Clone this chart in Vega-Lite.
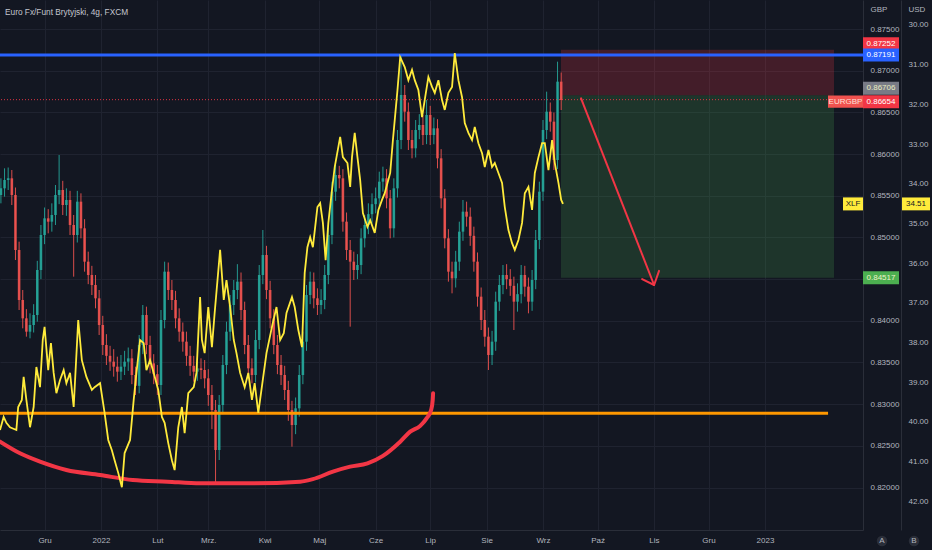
{
  "$schema": "https://vega.github.io/schema/vega-lite/v6.json",
  "width": 863,
  "height": 530,
  "autosize": {"type": "none"},
  "padding": {"left": 0, "top": 0, "right": 69, "bottom": 20},
  "background": "#131722",
  "title": {
    "text": "Euro Fx/Funt Brytyjski, 4g, FXCM",
    "anchor": "start",
    "frame": "group",
    "orient": "top",
    "offset": 0,
    "baseline": "middle",
    "dx": 5,
    "dy": 21,
    "fontSize": 8.3,
    "fontWeight": "normal",
    "color": "#c3c6ce"
  },
  "datasets": {
    "candles": [
      {"t":"2021-11-07T00:00","o":0.8551,"h":0.8571,"l":0.8541,"c":0.8559},
      {"t":"2021-11-09T00:00","o":0.8559,"h":0.8583,"l":0.8549,"c":0.8569},
      {"t":"2021-11-11T00:00","o":0.8569,"h":0.8584,"l":0.8557,"c":0.8571},
      {"t":"2021-11-13T00:00","o":0.8571,"h":0.8581,"l":0.8539,"c":0.8551},
      {"t":"2021-11-15T00:00","o":0.8551,"h":0.8560,"l":0.8473,"c":0.8485},
      {"t":"2021-11-17T00:00","o":0.8485,"h":0.8495,"l":0.8413,"c":0.8425},
      {"t":"2021-11-19T00:00","o":0.8425,"h":0.8437,"l":0.8391,"c":0.8403},
      {"t":"2021-11-21T00:00","o":0.8403,"h":0.8414,"l":0.8381,"c":0.8387},
      {"t":"2021-11-23T00:00","o":0.8387,"h":0.8409,"l":0.8379,"c":0.8395},
      {"t":"2021-11-25T00:00","o":0.8395,"h":0.8420,"l":0.8386,"c":0.8407},
      {"t":"2021-11-27T00:00","o":0.8407,"h":0.8472,"l":0.8399,"c":0.8461},
      {"t":"2021-11-29T00:00","o":0.8461,"h":0.8515,"l":0.8450,"c":0.8503},
      {"t":"2021-12-01T00:00","o":0.8503,"h":0.8536,"l":0.8492,"c":0.8523},
      {"t":"2021-12-03T00:00","o":0.8523,"h":0.8534,"l":0.8505,"c":0.8519},
      {"t":"2021-12-05T00:00","o":0.8519,"h":0.8541,"l":0.8507,"c":0.8527},
      {"t":"2021-12-07T00:00","o":0.8527,"h":0.8563,"l":0.8515,"c":0.8551},
      {"t":"2021-12-09T00:00","o":0.8551,"h":0.8599,"l":0.8540,"c":0.8557},
      {"t":"2021-12-11T00:00","o":0.8557,"h":0.8568,"l":0.8527,"c":0.8539},
      {"t":"2021-12-13T00:00","o":0.8539,"h":0.8559,"l":0.8526,"c":0.8545},
      {"t":"2021-12-15T00:00","o":0.8545,"h":0.8556,"l":0.8503,"c":0.8515},
      {"t":"2021-12-17T00:00","o":0.8515,"h":0.8527,"l":0.8453,"c":0.8503},
      {"t":"2021-12-19T00:00","o":0.8503,"h":0.8556,"l":0.8494,"c":0.8543},
      {"t":"2021-12-21T00:00","o":0.8543,"h":0.8553,"l":0.8499,"c":0.8511},
      {"t":"2021-12-23T00:00","o":0.8511,"h":0.8522,"l":0.8459,"c":0.8471},
      {"t":"2021-12-25T00:00","o":0.8471,"h":0.8483,"l":0.8444,"c":0.8455},
      {"t":"2021-12-27T00:00","o":0.8455,"h":0.8466,"l":0.8431,"c":0.8443},
      {"t":"2021-12-29T00:00","o":0.8443,"h":0.8455,"l":0.8415,"c":0.8427},
      {"t":"2021-12-31T00:00","o":0.8427,"h":0.8437,"l":0.8383,"c":0.8395},
      {"t":"2022-01-02T00:00","o":0.8395,"h":0.8406,"l":0.8359,"c":0.8371},
      {"t":"2022-01-04T00:00","o":0.8371,"h":0.8384,"l":0.8347,"c":0.8358},
      {"t":"2022-01-06T00:00","o":0.8358,"h":0.8370,"l":0.8340,"c":0.8351},
      {"t":"2022-01-08T00:00","o":0.8351,"h":0.8366,"l":0.8333,"c":0.8345},
      {"t":"2022-01-10T00:00","o":0.8345,"h":0.8357,"l":0.8327,"c":0.8339},
      {"t":"2022-01-12T00:00","o":0.8339,"h":0.8359,"l":0.8329,"c":0.8345},
      {"t":"2022-01-14T00:00","o":0.8345,"h":0.8364,"l":0.8335,"c":0.8351},
      {"t":"2022-01-16T00:00","o":0.8351,"h":0.8368,"l":0.8340,"c":0.8355},
      {"t":"2022-01-18T00:00","o":0.8355,"h":0.8366,"l":0.8324,"c":0.8335},
      {"t":"2022-01-20T00:00","o":0.8335,"h":0.8345,"l":0.8311,"c":0.8322},
      {"t":"2022-01-22T00:00","o":0.8322,"h":0.8383,"l":0.8313,"c":0.8371},
      {"t":"2022-01-24T00:00","o":0.8371,"h":0.8419,"l":0.8360,"c":0.8407},
      {"t":"2022-01-26T00:00","o":0.8407,"h":0.8417,"l":0.8360,"c":0.8371},
      {"t":"2022-01-28T00:00","o":0.8371,"h":0.8382,"l":0.8337,"c":0.8349},
      {"t":"2022-01-30T00:00","o":0.8349,"h":0.8360,"l":0.8324,"c":0.8336},
      {"t":"2022-02-01T00:00","o":0.8336,"h":0.8347,"l":0.8311,"c":0.8323},
      {"t":"2022-02-03T00:00","o":0.8323,"h":0.8413,"l":0.8311,"c":0.8401},
      {"t":"2022-02-05T00:00","o":0.8401,"h":0.8471,"l":0.8391,"c":0.8459},
      {"t":"2022-02-07T00:00","o":0.8459,"h":0.8470,"l":0.8425,"c":0.8437},
      {"t":"2022-02-09T00:00","o":0.8437,"h":0.8449,"l":0.8413,"c":0.8425},
      {"t":"2022-02-11T00:00","o":0.8425,"h":0.8436,"l":0.8391,"c":0.8403},
      {"t":"2022-02-13T00:00","o":0.8403,"h":0.8415,"l":0.8375,"c":0.8387},
      {"t":"2022-02-15T00:00","o":0.8387,"h":0.8398,"l":0.8363,"c":0.8375},
      {"t":"2022-02-17T00:00","o":0.8375,"h":0.8387,"l":0.8346,"c":0.8358},
      {"t":"2022-02-19T00:00","o":0.8358,"h":0.8370,"l":0.8334,"c":0.8346},
      {"t":"2022-02-21T00:00","o":0.8346,"h":0.8358,"l":0.8327,"c":0.8339},
      {"t":"2022-02-23T00:00","o":0.8339,"h":0.8356,"l":0.8328,"c":0.8343},
      {"t":"2022-02-25T00:00","o":0.8343,"h":0.8355,"l":0.8330,"c":0.8341},
      {"t":"2022-02-27T00:00","o":0.8341,"h":0.8353,"l":0.8319,"c":0.8331},
      {"t":"2022-03-01T00:00","o":0.8331,"h":0.8342,"l":0.8298,"c":0.8311},
      {"t":"2022-03-03T00:00","o":0.8311,"h":0.8323,"l":0.8270,"c":0.8293},
      {"t":"2022-03-05T00:00","o":0.8293,"h":0.8305,"l":0.8203,"c":0.8245},
      {"t":"2022-03-07T00:00","o":0.8245,"h":0.8311,"l":0.8233,"c":0.8299},
      {"t":"2022-03-09T00:00","o":0.8299,"h":0.8359,"l":0.8288,"c":0.8347},
      {"t":"2022-03-11T00:00","o":0.8347,"h":0.8399,"l":0.8336,"c":0.8387},
      {"t":"2022-03-13T00:00","o":0.8387,"h":0.8431,"l":0.8376,"c":0.8419},
      {"t":"2022-03-15T00:00","o":0.8419,"h":0.8449,"l":0.8407,"c":0.8437},
      {"t":"2022-03-17T00:00","o":0.8437,"h":0.8468,"l":0.8426,"c":0.8447},
      {"t":"2022-03-19T00:00","o":0.8447,"h":0.8458,"l":0.8401,"c":0.8413},
      {"t":"2022-03-21T00:00","o":0.8413,"h":0.8423,"l":0.8360,"c":0.8371},
      {"t":"2022-03-23T00:00","o":0.8371,"h":0.8383,"l":0.8331,"c":0.8343},
      {"t":"2022-03-25T00:00","o":0.8343,"h":0.8355,"l":0.8325,"c":0.8335},
      {"t":"2022-03-27T00:00","o":0.8335,"h":0.8389,"l":0.8326,"c":0.8377},
      {"t":"2022-03-29T00:00","o":0.8377,"h":0.8467,"l":0.8366,"c":0.8455},
      {"t":"2022-03-31T00:00","o":0.8455,"h":0.8509,"l":0.8444,"c":0.8479},
      {"t":"2022-04-02T00:00","o":0.8479,"h":0.8490,"l":0.8426,"c":0.8437},
      {"t":"2022-04-04T00:00","o":0.8437,"h":0.8448,"l":0.8391,"c":0.8403},
      {"t":"2022-04-06T00:00","o":0.8403,"h":0.8414,"l":0.8360,"c":0.8371},
      {"t":"2022-04-08T00:00","o":0.8371,"h":0.8383,"l":0.8336,"c":0.8347},
      {"t":"2022-04-10T00:00","o":0.8347,"h":0.8359,"l":0.8323,"c":0.8335},
      {"t":"2022-04-12T00:00","o":0.8335,"h":0.8346,"l":0.8305,"c":0.8317},
      {"t":"2022-04-14T00:00","o":0.8317,"h":0.8328,"l":0.8280,"c":0.8293},
      {"t":"2022-04-16T00:00","o":0.8293,"h":0.8304,"l":0.8249,"c":0.8275},
      {"t":"2022-04-18T00:00","o":0.8275,"h":0.8308,"l":0.8264,"c":0.8295},
      {"t":"2022-04-20T00:00","o":0.8295,"h":0.8347,"l":0.8285,"c":0.8335},
      {"t":"2022-04-22T00:00","o":0.8335,"h":0.8387,"l":0.8324,"c":0.8375},
      {"t":"2022-04-24T00:00","o":0.8375,"h":0.8443,"l":0.8364,"c":0.8431},
      {"t":"2022-04-26T00:00","o":0.8431,"h":0.8459,"l":0.8420,"c":0.8447},
      {"t":"2022-04-28T00:00","o":0.8447,"h":0.8458,"l":0.8415,"c":0.8427},
      {"t":"2022-04-30T00:00","o":0.8427,"h":0.8439,"l":0.8407,"c":0.8419},
      {"t":"2022-05-02T00:00","o":0.8419,"h":0.8438,"l":0.8408,"c":0.8425},
      {"t":"2022-05-04T00:00","o":0.8425,"h":0.8467,"l":0.8414,"c":0.8455},
      {"t":"2022-05-06T00:00","o":0.8455,"h":0.8515,"l":0.8444,"c":0.8503},
      {"t":"2022-05-08T00:00","o":0.8503,"h":0.8567,"l":0.8492,"c":0.8555},
      {"t":"2022-05-10T00:00","o":0.8555,"h":0.8587,"l":0.8544,"c":0.8575},
      {"t":"2022-05-12T00:00","o":0.8575,"h":0.8586,"l":0.8559,"c":0.8571},
      {"t":"2022-05-14T00:00","o":0.8571,"h":0.8582,"l":0.8507,"c":0.8519},
      {"t":"2022-05-16T00:00","o":0.8519,"h":0.8530,"l":0.8473,"c":0.8485},
      {"t":"2022-05-18T00:00","o":0.8485,"h":0.8497,"l":0.8393,"c":0.8471},
      {"t":"2022-05-20T00:00","o":0.8471,"h":0.8483,"l":0.8449,"c":0.8461},
      {"t":"2022-05-22T00:00","o":0.8461,"h":0.8480,"l":0.8450,"c":0.8467},
      {"t":"2022-05-24T00:00","o":0.8467,"h":0.8511,"l":0.8456,"c":0.8499},
      {"t":"2022-05-26T00:00","o":0.8499,"h":0.8527,"l":0.8488,"c":0.8515},
      {"t":"2022-05-28T00:00","o":0.8515,"h":0.8541,"l":0.8504,"c":0.8528},
      {"t":"2022-05-30T00:00","o":0.8528,"h":0.8553,"l":0.8517,"c":0.8540},
      {"t":"2022-06-01T00:00","o":0.8540,"h":0.8560,"l":0.8529,"c":0.8547},
      {"t":"2022-06-03T00:00","o":0.8547,"h":0.8579,"l":0.8536,"c":0.8567},
      {"t":"2022-06-05T00:00","o":0.8567,"h":0.8585,"l":0.8555,"c":0.8571},
      {"t":"2022-06-07T00:00","o":0.8571,"h":0.8582,"l":0.8535,"c":0.8547},
      {"t":"2022-06-09T00:00","o":0.8547,"h":0.8557,"l":0.8499,"c":0.8511},
      {"t":"2022-06-11T00:00","o":0.8511,"h":0.8571,"l":0.8500,"c":0.8559},
      {"t":"2022-06-13T00:00","o":0.8559,"h":0.8629,"l":0.8548,"c":0.8617},
      {"t":"2022-06-15T00:00","o":0.8617,"h":0.8718,"l":0.8606,"c":0.8671},
      {"t":"2022-06-17T00:00","o":0.8671,"h":0.8683,"l":0.8639,"c":0.8651},
      {"t":"2022-06-19T00:00","o":0.8651,"h":0.8662,"l":0.8605,"c":0.8617},
      {"t":"2022-06-21T00:00","o":0.8617,"h":0.8629,"l":0.8595,"c":0.8607},
      {"t":"2022-06-23T00:00","o":0.8607,"h":0.8641,"l":0.8596,"c":0.8629},
      {"t":"2022-06-25T00:00","o":0.8629,"h":0.8648,"l":0.8618,"c":0.8635},
      {"t":"2022-06-27T00:00","o":0.8635,"h":0.8647,"l":0.8611,"c":0.8623},
      {"t":"2022-06-29T00:00","o":0.8623,"h":0.8665,"l":0.8612,"c":0.8647},
      {"t":"2022-07-01T00:00","o":0.8647,"h":0.8658,"l":0.8611,"c":0.8623},
      {"t":"2022-07-03T00:00","o":0.8623,"h":0.8644,"l":0.8612,"c":0.8631},
      {"t":"2022-07-05T00:00","o":0.8631,"h":0.8642,"l":0.8583,"c":0.8595},
      {"t":"2022-07-07T00:00","o":0.8595,"h":0.8606,"l":0.8535,"c":0.8547},
      {"t":"2022-07-09T00:00","o":0.8547,"h":0.8558,"l":0.8487,"c":0.8499},
      {"t":"2022-07-11T00:00","o":0.8499,"h":0.8510,"l":0.8447,"c":0.8459},
      {"t":"2022-07-13T00:00","o":0.8459,"h":0.8471,"l":0.8433,"c":0.8451},
      {"t":"2022-07-15T00:00","o":0.8451,"h":0.8484,"l":0.8440,"c":0.8471},
      {"t":"2022-07-17T00:00","o":0.8471,"h":0.8519,"l":0.8460,"c":0.8507},
      {"t":"2022-07-19T00:00","o":0.8507,"h":0.8545,"l":0.8496,"c":0.8531},
      {"t":"2022-07-21T00:00","o":0.8531,"h":0.8543,"l":0.8513,"c":0.8525},
      {"t":"2022-07-23T00:00","o":0.8525,"h":0.8536,"l":0.8490,"c":0.8502},
      {"t":"2022-07-25T00:00","o":0.8502,"h":0.8513,"l":0.8459,"c":0.8471},
      {"t":"2022-07-27T00:00","o":0.8471,"h":0.8482,"l":0.8417,"c":0.8429},
      {"t":"2022-07-29T00:00","o":0.8429,"h":0.8440,"l":0.8389,"c":0.8401},
      {"t":"2022-07-31T00:00","o":0.8401,"h":0.8413,"l":0.8369,"c":0.8381},
      {"t":"2022-08-02T00:00","o":0.8381,"h":0.8392,"l":0.8341,"c":0.8359},
      {"t":"2022-08-04T00:00","o":0.8359,"h":0.8388,"l":0.8347,"c":0.8375},
      {"t":"2022-08-06T00:00","o":0.8375,"h":0.8435,"l":0.8364,"c":0.8423},
      {"t":"2022-08-08T00:00","o":0.8423,"h":0.8455,"l":0.8412,"c":0.8443},
      {"t":"2022-08-10T00:00","o":0.8443,"h":0.8467,"l":0.8432,"c":0.8455},
      {"t":"2022-08-12T00:00","o":0.8455,"h":0.8468,"l":0.8438,"c":0.8450},
      {"t":"2022-08-14T00:00","o":0.8450,"h":0.8462,"l":0.8430,"c":0.8442},
      {"t":"2022-08-16T00:00","o":0.8442,"h":0.8453,"l":0.8389,"c":0.8423},
      {"t":"2022-08-18T00:00","o":0.8423,"h":0.8445,"l":0.8411,"c":0.8432},
      {"t":"2022-08-20T00:00","o":0.8432,"h":0.8467,"l":0.8421,"c":0.8455},
      {"t":"2022-08-22T00:00","o":0.8455,"h":0.8466,"l":0.8429,"c":0.8441},
      {"t":"2022-08-24T00:00","o":0.8441,"h":0.8452,"l":0.8409,"c":0.8423},
      {"t":"2022-08-26T00:00","o":0.8423,"h":0.8461,"l":0.8412,"c":0.8449},
      {"t":"2022-08-28T00:00","o":0.8449,"h":0.8509,"l":0.8438,"c":0.8497},
      {"t":"2022-08-30T00:00","o":0.8497,"h":0.8567,"l":0.8486,"c":0.8555},
      {"t":"2022-09-01T00:00","o":0.8555,"h":0.8641,"l":0.8544,"c":0.8629},
      {"t":"2022-09-03T00:00","o":0.8629,"h":0.8675,"l":0.8618,"c":0.8651},
      {"t":"2022-09-05T00:00","o":0.8651,"h":0.8662,"l":0.8627,"c":0.8639},
      {"t":"2022-09-07T00:00","o":0.8639,"h":0.8650,"l":0.8581,"c":0.8593},
      {"t":"2022-09-09T00:00","o":0.8593,"h":0.8711,"l":0.8582,"c":0.8687},
      {"t":"2022-09-11T00:00","o":0.8687,"h":0.8698,"l":0.8653,"c":0.8665}
    ],
    "xlf": [
      {"t":"2021-11-06T12:00","v":40.21},{"t":"2021-11-08T12:00","v":39.88},{"t":"2021-11-10T00:00","v":40.03},
      {"t":"2021-11-12T00:00","v":40.14},{"t":"2021-11-15T12:00","v":40.21},{"t":"2021-11-16T12:00","v":39.63},
      {"t":"2021-11-18T12:00","v":39.45},{"t":"2021-11-19T12:00","v":38.87},{"t":"2021-11-21T00:00","v":39.45},
      {"t":"2021-11-23T00:00","v":40.14},{"t":"2021-11-25T00:00","v":39.63},{"t":"2021-11-26T12:00","v":38.62},
      {"t":"2021-11-28T12:00","v":39.13},{"t":"2021-11-30T00:00","v":37.94},{"t":"2021-12-01T00:00","v":37.61},
      {"t":"2021-12-03T00:00","v":38.70},{"t":"2021-12-04T12:00","v":38.02},{"t":"2021-12-06T00:00","v":38.77},
      {"t":"2021-12-07T12:00","v":39.28},{"t":"2021-12-09T12:00","v":38.95},{"t":"2021-12-11T12:00","v":38.70},
      {"t":"2021-12-13T00:00","v":39.03},{"t":"2021-12-15T00:00","v":38.77},{"t":"2021-12-17T00:00","v":39.63},
      {"t":"2021-12-19T12:00","v":37.44},{"t":"2021-12-21T12:00","v":38.45},{"t":"2021-12-24T00:00","v":38.87},
      {"t":"2021-12-27T00:00","v":39.20},{"t":"2021-12-28T12:00","v":39.13},{"t":"2021-12-31T12:00","v":39.03},
      {"t":"2022-01-03T00:00","v":39.78},{"t":"2022-01-05T00:00","v":40.46},{"t":"2022-01-07T00:00","v":40.72},
      {"t":"2022-01-08T12:00","v":40.97},{"t":"2022-01-10T12:00","v":41.29},{"t":"2022-01-12T12:00","v":41.65},
      {"t":"2022-01-14T00:00","v":40.79},{"t":"2022-01-17T00:00","v":40.46},{"t":"2022-01-19T00:00","v":39.45},
      {"t":"2022-01-20T12:00","v":38.77},{"t":"2022-01-22T12:00","v":37.94},{"t":"2022-01-24T12:00","v":38.02},
      {"t":"2022-01-26T00:00","v":38.70},{"t":"2022-01-28T00:00","v":38.45},{"t":"2022-01-30T00:00","v":38.77},
      {"t":"2022-02-01T12:00","v":39.20},{"t":"2022-02-03T12:00","v":39.88},{"t":"2022-02-05T00:00","v":40.03},
      {"t":"2022-02-07T00:00","v":40.54},{"t":"2022-02-09T00:00","v":40.97},{"t":"2022-02-10T12:00","v":41.22},
      {"t":"2022-02-12T12:00","v":40.14},{"t":"2022-02-14T12:00","v":39.63},{"t":"2022-02-16T00:00","v":40.29},
      {"t":"2022-02-18T00:00","v":39.28},{"t":"2022-02-21T00:00","v":39.13},{"t":"2022-02-22T12:00","v":38.77},
      {"t":"2022-02-24T12:00","v":36.86},{"t":"2022-02-25T12:00","v":37.94},{"t":"2022-02-27T00:00","v":38.27},
      {"t":"2022-03-01T00:00","v":37.11},{"t":"2022-03-03T00:00","v":38.12},{"t":"2022-03-04T12:00","v":37.26},
      {"t":"2022-03-07T12:00","v":35.67},{"t":"2022-03-09T12:00","v":36.93},{"t":"2022-03-11T00:00","v":36.43},
      {"t":"2022-03-13T00:00","v":37.11},{"t":"2022-03-15T00:00","v":37.94},{"t":"2022-03-16T12:00","v":38.27},
      {"t":"2022-03-18T12:00","v":38.77},{"t":"2022-03-21T00:00","v":39.13},{"t":"2022-03-23T00:00","v":38.77},
      {"t":"2022-03-25T00:00","v":39.45},{"t":"2022-03-26T12:00","v":39.03},{"t":"2022-03-28T12:00","v":39.78},
      {"t":"2022-03-31T12:00","v":38.77},{"t":"2022-04-02T00:00","v":38.27},{"t":"2022-04-05T00:00","v":37.61},
      {"t":"2022-04-07T12:00","v":37.11},{"t":"2022-04-09T12:00","v":37.94},{"t":"2022-04-11T12:00","v":37.77},
      {"t":"2022-04-13T00:00","v":37.26},{"t":"2022-04-16T00:00","v":36.86},{"t":"2022-04-17T12:00","v":37.11},
      {"t":"2022-04-19T12:00","v":37.69},{"t":"2022-04-21T12:00","v":38.12},{"t":"2022-04-23T00:00","v":36.25},
      {"t":"2022-04-24T12:00","v":35.60},{"t":"2022-04-26T00:00","v":35.35},{"t":"2022-04-27T12:00","v":35.60},
      {"t":"2022-04-30T00:00","v":34.59},{"t":"2022-05-01T12:00","v":34.49},{"t":"2022-05-03T00:00","v":34.99},
      {"t":"2022-05-04T12:00","v":35.93},{"t":"2022-05-06T00:00","v":34.99},{"t":"2022-05-08T00:00","v":34.16},
      {"t":"2022-05-09T12:00","v":33.58},{"t":"2022-05-12T12:00","v":32.82},{"t":"2022-05-14T00:00","v":33.33},
      {"t":"2022-05-16T12:00","v":33.48},{"t":"2022-05-18T00:00","v":34.08},{"t":"2022-05-19T00:00","v":33.33},
      {"t":"2022-05-20T12:00","v":32.72},{"t":"2022-05-22T00:00","v":33.33},{"t":"2022-05-23T12:00","v":33.91},
      {"t":"2022-05-25T00:00","v":34.74},{"t":"2022-05-27T12:00","v":35.09},{"t":"2022-05-29T00:00","v":34.92},
      {"t":"2022-05-31T12:00","v":35.24},{"t":"2022-06-02T12:00","v":34.66},{"t":"2022-06-04T12:00","v":34.41},
      {"t":"2022-06-06T00:00","v":34.24},{"t":"2022-06-09T00:00","v":33.73},{"t":"2022-06-10T12:00","v":32.90},
      {"t":"2022-06-13T00:00","v":31.64},{"t":"2022-06-14T12:00","v":30.81},{"t":"2022-06-17T00:00","v":31.06},
      {"t":"2022-06-19T00:00","v":31.39},{"t":"2022-06-21T00:00","v":31.13},{"t":"2022-06-22T12:00","v":31.39},
      {"t":"2022-06-24T12:00","v":31.64},{"t":"2022-06-26T12:00","v":32.32},{"t":"2022-06-28T00:00","v":31.89},
      {"t":"2022-06-30T00:00","v":31.31},{"t":"2022-07-02T00:00","v":31.56},{"t":"2022-07-03T12:00","v":31.71},
      {"t":"2022-07-05T12:00","v":31.39},{"t":"2022-07-07T12:00","v":31.89},{"t":"2022-07-09T00:00","v":32.14},
      {"t":"2022-07-11T00:00","v":31.71},{"t":"2022-07-13T00:00","v":31.56},{"t":"2022-07-14T12:00","v":30.71},
      {"t":"2022-07-16T12:00","v":31.39},{"t":"2022-07-18T12:00","v":31.82},{"t":"2022-07-20T00:00","v":32.47},
      {"t":"2022-07-22T00:00","v":32.72},{"t":"2022-07-24T00:00","v":32.90},{"t":"2022-07-25T12:00","v":32.57},
      {"t":"2022-07-27T12:00","v":32.98},{"t":"2022-07-29T12:00","v":33.23},{"t":"2022-07-31T00:00","v":33.58},
      {"t":"2022-08-02T00:00","v":33.15},{"t":"2022-08-04T00:00","v":33.58},{"t":"2022-08-05T12:00","v":33.48},
      {"t":"2022-08-07T12:00","v":33.73},{"t":"2022-08-09T12:00","v":33.98},{"t":"2022-08-11T00:00","v":34.59},
      {"t":"2022-08-13T00:00","v":35.17},{"t":"2022-08-15T00:00","v":35.50},{"t":"2022-08-16T12:00","v":35.67},
      {"t":"2022-08-18T12:00","v":35.42},{"t":"2022-08-20T12:00","v":34.99},{"t":"2022-08-22T00:00","v":34.24},
      {"t":"2022-08-24T00:00","v":34.08},{"t":"2022-08-26T00:00","v":34.66},{"t":"2022-08-27T12:00","v":33.73},
      {"t":"2022-08-29T12:00","v":33.33},{"t":"2022-08-31T12:00","v":32.98},{"t":"2022-09-02T00:00","v":32.98},
      {"t":"2022-09-04T00:00","v":33.66},{"t":"2022-09-06T00:00","v":32.90},{"t":"2022-09-07T12:00","v":33.48},
      {"t":"2022-09-09T12:00","v":33.98},{"t":"2022-09-11T00:00","v":34.41},{"t":"2022-09-12T00:00","v":34.51}
    ],
    "curve": [
      {"t":"2021-11-06T12:00","p":0.8255},
      {"t":"2021-11-17T12:00","p":0.8241},
      {"t":"2021-11-28T12:00","p":0.8231},
      {"t":"2021-12-13T00:00","p":0.8221},
      {"t":"2021-12-31T12:00","p":0.8215},
      {"t":"2022-01-18T12:00","p":0.8209},
      {"t":"2022-02-06T12:00","p":0.8207},
      {"t":"2022-02-24T12:00","p":0.8205},
      {"t":"2022-03-25T00:00","p":0.8205},
      {"t":"2022-04-20T12:00","p":0.8207},
      {"t":"2022-04-27T12:00","p":0.8210},
      {"t":"2022-05-08T12:00","p":0.8219},
      {"t":"2022-05-18T00:00","p":0.8225},
      {"t":"2022-05-27T12:00","p":0.8229},
      {"t":"2022-06-05T00:00","p":0.8238},
      {"t":"2022-06-14T12:00","p":0.8255},
      {"t":"2022-06-20T00:00","p":0.8267},
      {"t":"2022-06-25T12:00","p":0.8274},
      {"t":"2022-06-29T00:00","p":0.8283},
      {"t":"2022-07-01T12:00","p":0.8293},
      {"t":"2022-07-02T09:00","p":0.8305},
      {"t":"2022-07-02T14:00","p":0.8313}
    ],
    "arrow": [
      {"t1":"2022-09-21T22:00","p1":0.8667,"t2":"2022-11-01T02:00","p2":0.8443},
      {"t1":"2022-11-01T02:00","p1":0.8443,"t2":"2022-10-25T12:00","p2":0.8450},
      {"t1":"2022-11-01T02:00","p1":0.8443,"t2":"2022-11-03T19:00","p2":0.8460}
    ]
  },
  "resolve": {"scale": {"y": "independent"}},
  "layer": [
    {
      "layer": [
        {
          "data": {"values": [{"t1": "2022-09-10T21:00", "t2": "2023-02-08T00:00", "p1": 0.87252, "p2": 0.86706}]},
          "mark": {"type": "rect", "color": "#f23645", "opacity": 0.22, "clip": true},
          "encoding": {
            "x": {"field": "t1", "type": "temporal", "scale": {"domain": [{"year": 2021, "month": 11, "date": 6, "hours": 12}, {"year": 2023, "month": 2, "date": 23, "hours": 22}], "padding": 0, "nice": false}},
            "x2": {"field": "t2"},
            "y": {"field": "p1", "type": "quantitative", "scale": {"domain": [0.8149, 0.8785], "nice": false, "zero": false}},
            "y2": {"field": "p2"}
          }
        },
        {
          "data": {"values": [{"t1": "2022-09-10T21:00", "t2": "2023-02-08T00:00", "p1": 0.86706, "p2": 0.84517}]},
          "mark": {"type": "rect", "color": "#4caf50", "opacity": 0.2, "clip": true},
          "encoding": {
            "x": {"field": "t1", "type": "temporal", "scale": {"domain": [{"year": 2021, "month": 11, "date": 6, "hours": 12}, {"year": 2023, "month": 2, "date": 23, "hours": 22}], "padding": 0, "nice": false}},
            "x2": {"field": "t2"},
            "y": {"field": "p1", "type": "quantitative", "scale": {"domain": [0.8149, 0.8785], "nice": false, "zero": false}},
            "y2": {"field": "p2"}
          }
        },
        {
          "data": {"name": "candles"},
          "mark": {"type": "rule", "strokeWidth": 1, "opacity": 0.9, "clip": true},
          "encoding": {
            "x": {
              "field": "t", "type": "temporal",
              "scale": {"domain": [{"year": 2021, "month": 11, "date": 6, "hours": 12}, {"year": 2023, "month": 2, "date": 23, "hours": 22}], "padding": 0, "nice": false},
              "axis": {
                "title": null,
                "grid": true,
                "values": [
                  {"year": 2021, "month": 12, "date": 1}, {"year": 2022, "month": 1, "date": 1},
                  {"year": 2022, "month": 2, "date": 1}, {"year": 2022, "month": 3, "date": 1},
                  {"year": 2022, "month": 4, "date": 1}, {"year": 2022, "month": 5, "date": 1},
                  {"year": 2022, "month": 6, "date": 1}, {"year": 2022, "month": 7, "date": 1},
                  {"year": 2022, "month": 8, "date": 1}, {"year": 2022, "month": 9, "date": 1},
                  {"year": 2022, "month": 10, "date": 1}, {"year": 2022, "month": 11, "date": 1},
                  {"year": 2022, "month": 12, "date": 1}, {"year": 2023, "month": 1, "date": 1}
                ],
                "labelExpr": "month(datum.value) == 0 ? timeFormat(datum.value, '%Y') : ['Sty','Lut','Mrz.','Kwi','Maj','Cze','Lip','Sie','Wrz','Paź','Lis','Gru'][month(datum.value)]",
                "labelPadding": 6
              }
            },
            "y": {
              "field": "l", "type": "quantitative",
              "scale": {"domain": [0.8149, 0.8785], "nice": false, "zero": false},
              "axis": {
                "orient": "right",
                "title": "GBP",
                "titleAngle": 0,
                "titleX": 7,
                "titleY": 9,
                "titleAlign": "left",
                "titleBaseline": "middle",
                "grid": true,
                "values": [0.82, 0.825, 0.83, 0.835, 0.84, 0.845, 0.85, 0.855, 0.86, 0.865, 0.87, 0.875],
                "labelExpr": "abs(datum.value - 0.845) < 0.0001 ? '' : format(datum.value, '.5f')",
                "labelPadding": 7
              }
            },
            "y2": {"field": "h"},
            "color": {"condition": {"test": "datum.c >= datum.o", "value": "#26a69a"}, "value": "#ef5350"}
          }
        },
        {
          "data": {"name": "candles"},
          "mark": {"type": "bar", "width": 2.6, "opacity": 0.9, "clip": true},
          "encoding": {
            "x": {"field": "t", "type": "temporal", "scale": {"domain": [{"year": 2021, "month": 11, "date": 6, "hours": 12}, {"year": 2023, "month": 2, "date": 23, "hours": 22}], "padding": 0, "nice": false}},
            "y": {"field": "o", "type": "quantitative", "scale": {"domain": [0.8149, 0.8785], "nice": false, "zero": false}},
            "y2": {"field": "c"},
            "color": {"condition": {"test": "datum.c >= datum.o", "value": "#26a69a"}, "value": "#ef5350"}
          }
        },
        {
          "data": {"values": [{"p": 0.86654}]},
          "mark": {"type": "rule", "color": "#f23645", "strokeWidth": 1, "strokeDash": [1, 2], "opacity": 0.9},
          "encoding": {
            "y": {"field": "p", "type": "quantitative", "scale": {"domain": [0.8149, 0.8785], "nice": false, "zero": false}}
          }
        },
        {
          "data": {"values": [{"t1": "2021-11-06T12:00", "t2": "2023-02-04T17:00", "p": 0.8289}]},
          "mark": {"type": "rule", "color": "#ff9800", "strokeWidth": 3, "clip": true},
          "encoding": {
            "x": {"field": "t1", "type": "temporal", "scale": {"domain": [{"year": 2021, "month": 11, "date": 6, "hours": 12}, {"year": 2023, "month": 2, "date": 23, "hours": 22}], "padding": 0, "nice": false}},
            "x2": {"field": "t2"},
            "y": {"field": "p", "type": "quantitative", "scale": {"domain": [0.8149, 0.8785], "nice": false, "zero": false}}
          }
        },
        {
          "data": {"values": [{"p": 0.87191}]},
          "mark": {"type": "rule", "color": "#2962ff", "strokeWidth": 3},
          "encoding": {
            "y": {"field": "p", "type": "quantitative", "scale": {"domain": [0.8149, 0.8785], "nice": false, "zero": false}}
          }
        },
        {
          "data": {"name": "curve"},
          "mark": {"type": "line", "color": "#f23645", "strokeWidth": 4, "strokeCap": "round", "interpolate": "monotone", "clip": true},
          "encoding": {
            "x": {"field": "t", "type": "temporal", "scale": {"domain": [{"year": 2021, "month": 11, "date": 6, "hours": 12}, {"year": 2023, "month": 2, "date": 23, "hours": 22}], "padding": 0, "nice": false}},
            "y": {"field": "p", "type": "quantitative", "scale": {"domain": [0.8149, 0.8785], "nice": false, "zero": false}}
          }
        },
        {
          "data": {"name": "arrow"},
          "mark": {"type": "rule", "color": "#f23645", "strokeWidth": 2, "strokeCap": "round"},
          "encoding": {
            "x": {"field": "t1", "type": "temporal", "scale": {"domain": [{"year": 2021, "month": 11, "date": 6, "hours": 12}, {"year": 2023, "month": 2, "date": 23, "hours": 22}], "padding": 0, "nice": false}},
            "x2": {"field": "t2"},
            "y": {"field": "p1", "type": "quantitative", "scale": {"domain": [0.8149, 0.8785], "nice": false, "zero": false}},
            "y2": {"field": "p2"}
          }
        },
        {
          "data": {"values": [{"p": 0.87252, "label": "0.87252"}]},
          "encoding": {
            "x": {"value": "width"},
            "y": {"field": "p", "type": "quantitative", "scale": {"domain": [0.8149, 0.8785], "nice": false, "zero": false}}
          },
          "layer": [
            {"mark": {"type": "point", "shape": "M-1,-0.36L1,-0.36L1,0.36L-1,0.36Z", "size": 1296, "filled": true, "opacity": 1, "strokeWidth": 0, "color": "#f23645", "xOffset": 18, "yOffset": -6, "clip": false}},
            {"mark": {"type": "text", "color": "#ffffff", "fontSize": 8, "xOffset": 18, "yOffset": -6, "clip": false}, "encoding": {"text": {"field": "label"}}}
          ]
        },
        {
          "data": {"values": [{"p": 0.87191, "label": "0.87191"}]},
          "encoding": {
            "x": {"value": "width"},
            "y": {"field": "p", "type": "quantitative", "scale": {"domain": [0.8149, 0.8785], "nice": false, "zero": false}}
          },
          "layer": [
            {"mark": {"type": "point", "shape": "M-1,-0.36L1,-0.36L1,0.36L-1,0.36Z", "size": 1296, "filled": true, "opacity": 1, "strokeWidth": 0, "color": "#2962ff", "xOffset": 18, "clip": false}},
            {"mark": {"type": "text", "color": "#ffffff", "fontSize": 8, "xOffset": 18, "clip": false}, "encoding": {"text": {"field": "label"}}}
          ]
        },
        {
          "data": {"values": [{"p": 0.86706, "label": "0.86706"}]},
          "encoding": {
            "x": {"value": "width"},
            "y": {"field": "p", "type": "quantitative", "scale": {"domain": [0.8149, 0.8785], "nice": false, "zero": false}}
          },
          "layer": [
            {"mark": {"type": "point", "shape": "M-1,-0.36L1,-0.36L1,0.36L-1,0.36Z", "size": 1296, "filled": true, "opacity": 1, "strokeWidth": 0, "color": "#787b86", "xOffset": 18, "yOffset": -7, "clip": false}},
            {"mark": {"type": "text", "color": "#e8ecc0", "fontSize": 8, "xOffset": 18, "yOffset": -7, "clip": false}, "encoding": {"text": {"field": "label"}}}
          ]
        },
        {
          "data": {"values": [{"p": 0.86654, "label": "0.86654", "name": "EURGBP"}]},
          "encoding": {
            "x": {"value": "width"},
            "y": {"field": "p", "type": "quantitative", "scale": {"domain": [0.8149, 0.8785], "nice": false, "zero": false}}
          },
          "layer": [
            {"mark": {"type": "point", "shape": "M-1,-0.36L1,-0.36L1,0.36L-1,0.36Z", "size": 1296, "filled": true, "opacity": 1, "strokeWidth": 0, "color": "#f23645", "xOffset": 18, "yOffset": 2, "clip": false}},
            {"mark": {"type": "text", "color": "#ffffff", "fontSize": 8, "xOffset": 18, "yOffset": 2, "clip": false}, "encoding": {"text": {"field": "label"}}},
            {"mark": {"type": "point", "shape": "M-1,-0.35L1,-0.35L1,0.35L-1,0.35Z", "size": 1225, "filled": true, "opacity": 1, "strokeWidth": 0, "color": "#f0524f", "xOffset": -17.5, "yOffset": 2, "clip": false}},
            {"mark": {"type": "text", "color": "#ffe0d8", "fontSize": 8, "xOffset": -17.5, "yOffset": 2, "clip": false}, "encoding": {"text": {"field": "name"}}}
          ]
        },
        {
          "data": {"values": [{"p": 0.84517, "label": "0.84517"}]},
          "encoding": {
            "x": {"value": "width"},
            "y": {"field": "p", "type": "quantitative", "scale": {"domain": [0.8149, 0.8785], "nice": false, "zero": false}}
          },
          "layer": [
            {"mark": {"type": "point", "shape": "M-1,-0.36L1,-0.36L1,0.36L-1,0.36Z", "size": 1296, "filled": true, "opacity": 1, "strokeWidth": 0, "color": "#4caf50", "xOffset": 18, "clip": false}},
            {"mark": {"type": "text", "color": "#eef3c8", "fontSize": 8, "xOffset": 18, "clip": false}, "encoding": {"text": {"field": "label"}}}
          ]
        },
        {
          "data": {"values": [{"label": "A"}]},
          "encoding": {"x": {"value": "width"}, "y": {"value": "height"}},
          "layer": [
            {"mark": {"type": "point", "shape": "circle", "size": 110, "filled": true, "opacity": 1, "color": "#2a2e39", "xOffset": 19, "yOffset": 11, "clip": false}},
            {"mark": {"type": "text", "color": "#b2b5be", "fontSize": 8, "xOffset": 19, "yOffset": 11, "clip": false}, "encoding": {"text": {"field": "label"}}}
          ]
        }
      ]
    },
    {
      "layer": [
        {
          "data": {"name": "xlf"},
          "mark": {"type": "line", "color": "#ffeb3b", "strokeWidth": 1.8, "clip": true},
          "encoding": {
            "x": {"field": "t", "type": "temporal", "scale": {"domain": [{"year": 2021, "month": 11, "date": 6, "hours": 12}, {"year": 2023, "month": 2, "date": 23, "hours": 22}], "padding": 0, "nice": false}},
            "y": {
              "field": "v", "type": "quantitative",
              "scale": {"domain": [29.37, 42.73], "reverse": true, "nice": false, "zero": false},
              "axis": {
                "orient": "right",
                "offset": 38,
                "title": "USD",
                "titleAngle": 0,
                "titleX": 7,
                "titleY": 9,
                "titleAlign": "left",
                "titleBaseline": "middle",
                "grid": false,
                "values": [30, 31, 32, 33, 34, 35, 36, 37, 38, 39, 40, 41, 42],
                "format": ".2f",
                "labelPadding": 7
              }
            }
          }
        },
        {
          "data": {"values": [{"v": 34.51, "label": "34.51", "name": "XLF"}]},
          "encoding": {
            "x": {"value": "width"},
            "y": {"field": "v", "type": "quantitative", "scale": {"domain": [29.37, 42.73], "reverse": true, "nice": false, "zero": false}}
          },
          "layer": [
            {"mark": {"type": "point", "shape": "M-1,-0.65L1,-0.65L1,0.65L-1,0.65Z", "size": 400, "filled": true, "opacity": 1, "strokeWidth": 0, "color": "#ffeb3b", "xOffset": -10, "clip": false}},
            {"mark": {"type": "text", "color": "#131722", "fontSize": 8, "xOffset": -10, "clip": false}, "encoding": {"text": {"field": "name"}}},
            {"mark": {"type": "point", "shape": "M-1,-0.46L1,-0.46L1,0.46L-1,0.46Z", "size": 784, "filled": true, "opacity": 1, "strokeWidth": 0, "color": "#ffeb3b", "xOffset": 53, "clip": false}},
            {"mark": {"type": "text", "color": "#131722", "fontSize": 8, "xOffset": 53, "clip": false}, "encoding": {"text": {"field": "label"}}}
          ]
        },
        {
          "data": {"values": [{"label": "B"}]},
          "encoding": {"x": {"value": "width"}, "y": {"value": "height"}},
          "layer": [
            {"mark": {"type": "point", "shape": "circle", "size": 110, "filled": true, "opacity": 1, "color": "#2a2e39", "xOffset": 51, "yOffset": 11, "clip": false}},
            {"mark": {"type": "text", "color": "#b2b5be", "fontSize": 8, "xOffset": 51, "yOffset": 11, "clip": false}, "encoding": {"text": {"field": "label"}}}
          ]
        }
      ]
    }
  ],
  "config": {
    "view": {"stroke": null},
    "font": "Liberation Sans",
    "axis": {
      "labelColor": "#b2b5be",
      "labelFontSize": 8,
      "titleColor": "#b2b5be",
      "titleFontSize": 8,
      "titleFontWeight": "normal",
      "gridColor": "#1f2330",
      "gridWidth": 1,
      "domainColor": "#2a2e39",
      "ticks": false
    }
  }
}
